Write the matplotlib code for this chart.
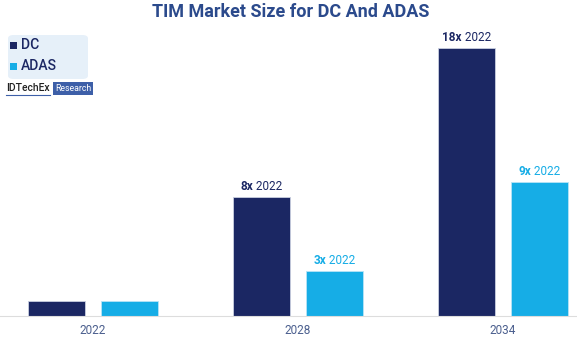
import numpy as np
import matplotlib.pyplot as plt
from matplotlib.patches import FancyBboxPatch, Rectangle

plt.rcParams['font.family'] = ['Roboto', 'DejaVu Sans']

years = ['2022', '2028', '2034']
dc_values = [1, 8, 18]
adas_values = [1, 3, 9]
dc_labels = [None, ('8x', ' 2022'), ('18x', ' 2022')]
adas_labels = [None, ('3x', ' 2022'), ('9x', ' 2022')]

DC_COLOR = '#1b2763'
ADAS_COLOR = '#16ade6'
TITLE_COLOR = '#2b4a8c'
TICK_COLOR = '#4b5f8e'

fig = plt.figure(figsize=(5.77, 3.41), dpi=100)
ax = fig.add_axes([0, 25 / 341, 1, 286 / 341])

x = np.arange(len(years))
width = 0.278
offset = 0.178
ax.bar(x - offset, dc_values, width, color=DC_COLOR, edgecolor='#c9cfe0', linewidth=0.6)
ax.bar(x + offset, adas_values, width, color=ADAS_COLOR, edgecolor='#b8e4f6', linewidth=0.6)

ax.set_xlim(-93 / 205, 484 / 205)
ax.set_ylim(0, 19.2)
ax.set_xticks(x)
ax.set_xticklabels(years, color=TICK_COLOR, fontsize=8.5)
ax.tick_params(axis='x', length=0, pad=6)
ax.set_yticks([])
for s in ['top', 'right', 'left']:
    ax.spines[s].set_visible(False)
ax.spines['bottom'].set_color('#dddddd')
ax.spines['bottom'].set_linewidth(0.8)


def bar_label(xc, val, parts, color):
    # bold multiplier followed by the base year, centred over the bar
    t1 = ax.annotate(parts[0], (xc, val), xytext=(0, 3), textcoords='offset points',
                     ha='left', va='bottom', fontsize=8.5, fontweight='bold', color=color)
    t2 = ax.annotate(parts[1], xy=(1, 0), xycoords=t1, ha='left', va='bottom',
                     fontsize=8.5, color=color)
    return t1, t2


pairs = []
for i in range(len(years)):
    if dc_labels[i]:
        pairs.append(bar_label(x[i] - offset, dc_values[i], dc_labels[i], DC_COLOR))
    if adas_labels[i]:
        pairs.append(bar_label(x[i] + offset, adas_values[i], adas_labels[i], ADAS_COLOR))

fig.canvas.draw()
r = fig.canvas.get_renderer()
for t1, t2 in pairs:
    w = t1.get_window_extent(r).width + t2.get_window_extent(r).width
    t1.set_position((-w / 2 * 72 / fig.dpi, 3))

fig.text(0.503, 0.965, 'TIM Market Size for DC And ADAS', ha='center', va='center',
         fontsize=13, fontweight='bold', color=TITLE_COLOR)

# legend box
fig.patches.append(FancyBboxPatch((8 / 577, 1 - 79 / 341), 80 / 577, 44 / 341,
                                  boxstyle='round,pad=0,rounding_size=0.01',
                                  transform=fig.transFigure, facecolor='#e6f0f9',
                                  edgecolor='none'))
for yy, lab, col in [(45, 'DC', DC_COLOR), (66, 'ADAS', ADAS_COLOR)]:
    fig.patches.append(Rectangle((10 / 577, 1 - (yy + 3.5) / 341), 7 / 577, 7 / 341,
                                 transform=fig.transFigure, facecolor=col, edgecolor='none'))
    fig.text(21 / 577, 1 - yy / 341, lab, ha='left', va='center', fontsize=10,
             color=DC_COLOR, fontweight='medium')

# company mark
fig.text(6 / 577, 1 - 88 / 341, 'IDTechEx', ha='left', va='center', fontsize=7.5,
         color='#222222', fontweight='medium')
fig.lines.append(plt.Line2D([6 / 577, 50 / 577], [1 - 94.5 / 341, 1 - 94.5 / 341],
                            transform=fig.transFigure, color='#3d5fa8', linewidth=0.8))
fig.patches.append(Rectangle((53 / 577, 1 - 95 / 341), 40 / 577, 13 / 341,
                             transform=fig.transFigure, facecolor='#3d5fa8', edgecolor='none'))
fig.text(73 / 577, 1 - 88.5 / 341, 'Research', ha='center', va='center', fontsize=6.3, color='white')

fig.savefig('out.png', dpi=100)
